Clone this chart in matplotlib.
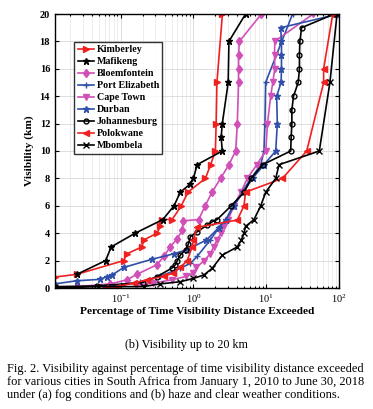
import numpy as np
import matplotlib
matplotlib.use('Agg')
import matplotlib.pyplot as plt
from matplotlib.ticker import LogLocator, NullFormatter

plt.rcParams['font.family'] = 'Liberation Serif'
plt.rcParams['mathtext.fontset'] = 'stix'

# percentage of time exceeded (x) against visibility in km (y)
kimberley_y = [0.8, 1, 2, 2.5, 3, 3.5, 4, 4.5, 5, 5, 6, 7, 8, 9, 10, 12, 15, 20]
kimberley_x = [0.0125, 0.025, 0.11, 0.122, 0.196, 0.206, 0.316, 0.35, 0.37, 0.51, 0.68, 0.84, 1.46, 1.72, 2.0, 2.05, 2.1, 2.5]

mafikeng_y = [1, 2, 3, 4, 5, 6, 7, 7.6, 8, 9, 10, 11, 12, 15, 18, 20]
mafikeng_x = [0.025, 0.062, 0.074, 0.158, 0.38, 0.54, 0.66, 0.91, 1.0, 1.12, 2.49, 2.4, 2.49, 3.0, 3.07, 5.2]

bloem_y = [0.1, 0.3, 0.6, 1.0, 1.7, 2.3, 3.0, 3.6, 4.2, 4.9, 5, 6, 7, 8, 9, 10, 12, 15, 16, 17, 18, 20]
bloem_x = [0.025, 0.072, 0.122, 0.167, 0.316, 0.39, 0.48, 0.6, 0.7, 0.72, 1.18, 1.45, 1.8, 2.36, 3.07, 3.8, 4.0, 4.17, 4.17, 4.17, 4.27, 8.6]

pe_y = [0.1, 0.2, 0.45, 0.85, 1.45, 1.8, 2.3, 3.5, 4.5, 5, 6, 7, 8, 9, 10, 12, 15, 20]
pe_x = [0.06, 0.1, 0.186, 0.35, 0.66, 0.91, 1.12, 1.7, 2.3, 2.8, 3.5, 4.6, 6.2, 8.4, 9.3, 9.6, 9.8, 23]

cape_y = [0.2, 0.35, 0.6, 0.85, 1.1, 1.5, 2.0, 2.5, 3.0, 3.5, 4.0, 4.5, 5, 6, 7, 8, 9, 10, 12, 14, 15, 16, 17, 18, 20]
cape_x = [0.16, 0.28, 0.5, 0.8, 1.0, 1.1, 1.4, 1.7, 1.9, 2.1, 2.4, 2.6, 3.0, 3.6, 4.5, 5.5, 7.4, 9.85, 10.4, 11.5, 12.3, 13.1, 13.0, 13.1, 44]

durban_y = [0.3, 0.53, 0.63, 0.83, 0.95, 1.5, 2.1, 2.5, 2.8, 3.5, 4.4, 5, 6, 7, 8, 9, 10, 12, 14, 15, 16, 17, 18, 19, 20]
durban_x = [0.0125, 0.025, 0.052, 0.065, 0.076, 0.11, 0.27, 0.54, 0.82, 1.5, 2.23, 2.8, 3.6, 4.8, 6.5, 9.3, 13.5, 14.2, 13.9, 16, 16.2, 16.2, 16.2, 15.8, 100]

joburg_y = [0.1, 0.15, 0.4, 0.83, 1.44, 1.68, 2.0, 2.4, 2.8, 3.2, 3.75, 4.1, 4.6, 4.84, 5, 6, 7, 8, 9, 10, 11, 12, 13, 14, 15, 16, 17, 18, 19, 20]
joburg_x = [0.0125, 0.047, 0.2, 0.316, 0.5, 0.56, 0.6, 0.66, 0.78, 0.85, 0.91, 1.12, 1.55, 1.81, 2.12, 3.3, 5.0, 6.2, 8.9, 21.7, 22, 22.5, 22.5, 23.7, 27.5, 28.6, 28.6, 29, 30.6, 86]

polok_y = [0, 0.1, 0.35, 0.6, 0.85, 1.1, 1.5, 2.0, 3.0, 3.5, 4.43, 4.96, 6, 7, 8, 10, 15, 16, 20]
polok_x = [0.06, 0.089, 0.15, 0.23, 0.39, 0.53, 0.66, 0.82, 0.96, 1.0, 1.12, 4.0, 4.94, 5.2, 16.7, 36, 61.5, 61.5, 82]

mbom_y = [0, 0.1, 0.1, 0.3, 0.46, 0.7, 0.95, 1.44, 2.4, 3.0, 3.5, 4.0, 4.5, 5, 6, 7, 8, 9, 10, 15, 20]
mbom_x = [0.0125, 0.049, 0.206, 0.35, 0.66, 1.0, 1.39, 1.81, 2.49, 4.0, 4.55, 4.94, 5.2, 6.8, 8.4, 9.85, 13.5, 15.0, 53.6, 75, 94]

red = '#f02020'
pink = '#d050b8'
blue = '#2f4fa8'

series = [
    ('Kimberley', kimberley_x, kimberley_y, red, '>'),
    ('Mafikeng', mafikeng_x, mafikeng_y, 'black', '*'),
    ('Bloemfontein', bloem_x, bloem_y, pink, 'd'),
    ('Port Elizabeth', pe_x, pe_y, blue, '+'),
    ('Cape Town', cape_x, cape_y, pink, 'v'),
    ('Durban', durban_x, durban_y, blue, '*'),
    ('Johannesburg', joburg_x, joburg_y, 'black', 'o'),
    ('Polokwane', polok_x, polok_y, red, '<'),
    ('Mbombela', mbom_x, mbom_y, 'black', 'x'),
]

fig = plt.figure(figsize=(3.73, 4.09), dpi=100)
ax = fig.add_axes([55 / 373, 121 / 409, 284 / 373, 274 / 409])

for name, xs, ys, col, mk in series:
    fill = 'none' if mk == 'o' else col
    ax.plot(xs, ys, color=col, marker=mk, markersize=4.5 if mk != 'o' else 3.5,
            markerfacecolor=fill, markeredgewidth=1.0, linewidth=1.2, label=name)

ax.set_xscale('log')
ax.set_xlim(0.0125, 100)
ax.set_ylim(0, 20)
ax.set_yticks(np.arange(0, 21, 2))
ax.xaxis.set_major_locator(LogLocator(base=10, numticks=10))
ax.xaxis.set_minor_locator(LogLocator(base=10, subs=np.arange(2, 10), numticks=20))
ax.xaxis.set_minor_formatter(NullFormatter())
ax.grid(True, which='major', color='#d8d8d8', linewidth=0.6)
ax.grid(True, which='minor', axis='x', color='#e6e6e6', linewidth=0.5)
ax.set_axisbelow(True)
ax.tick_params(which='both', direction='in', top=True, right=True, labelsize=7.5, width=0.8)
ax.tick_params(which='major', length=3)
ax.tick_params(which='minor', length=1.5)
for lbl in ax.get_yticklabels():
    lbl.set_fontweight('bold')
for sp in ax.spines.values():
    sp.set_linewidth(1.0)

ax.set_xlabel('Percentage of Time Visibility Distance Exceeded', fontsize=8.2, fontweight='bold', labelpad=1)
ax.set_ylabel('Visibility (km)', fontsize=8.2, fontweight='bold', labelpad=4)

leg = ax.legend(loc='upper left', bbox_to_anchor=(0.067, 0.898), borderaxespad=0,
                prop={'weight': 'bold', 'size': 7.2}, frameon=True, fancybox=False,
                handlelength=1.6, handletextpad=0.3, labelspacing=0.3, borderpad=0.35)
leg.get_frame().set_edgecolor('black')
leg.get_frame().set_linewidth(1.0)

fig.text(0.5, 1 - 345 / 409, '(b) Visibility up to 20 km', ha='center', va='center', fontsize=8.7)
caption = ('Fig. 2. Visibility against percentage of time visibility distance exceeded\n'
           'for various cities in South Africa from January 1, 2010 to June 30, 2018\n'
           'under (a) fog conditions and (b) haze and clear weather conditions.')
fig.text(7 / 373, 1 - 363 / 409, caption, ha='left', va='top', fontsize=8.9, linespacing=1.12)

fig.savefig('out.png', dpi=100)
